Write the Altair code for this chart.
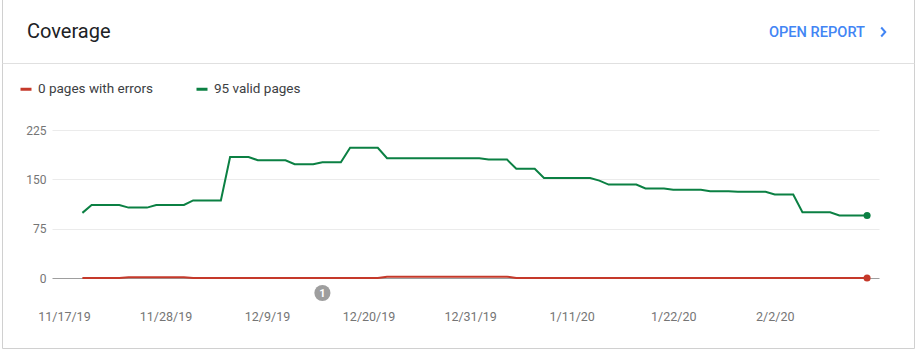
import altair as alt
import pandas as pd

# Daily counts, one value per day starting at start_date
start_date = "2019-11-19"
valid_pages = [
    99, 111, 111, 111, 111, 107, 107, 107, 111, 111, 111, 111,
    118, 118, 118, 118, 184, 184, 184, 179, 179, 179, 179,
    173, 173, 173, 176, 176, 176, 198, 198, 198, 198,
    182, 182, 182, 182, 182, 182, 182, 182, 182, 182, 182,
    180, 180, 180, 166, 166, 166, 152, 152, 152, 152, 152, 152,
    148, 142, 142, 142, 142, 136, 136, 136, 134, 134, 134, 134,
    132, 132, 132, 131, 131, 131, 131, 127, 127, 127,
    100, 100, 100, 100, 95, 95, 95, 95,
]
error_pages = [
    0, 0, 0, 0, 0, 1, 1, 1, 1, 1, 1, 1,
    0, 0, 0, 0, 0, 0, 0, 0, 0, 0, 0,
    0, 0, 0, 0, 0, 0, 0, 0, 0, 0,
    2, 2, 2, 2, 2, 2, 2, 2, 2, 2, 2,
    2, 2, 2, 0, 0, 0, 0, 0, 0, 0, 0, 0,
    0, 0, 0, 0, 0, 0, 0, 0, 0, 0, 0, 0,
    0, 0, 0, 0, 0, 0, 0, 0, 0, 0,
    0, 0, 0, 0, 0, 0, 0, 0,
]
annotation_dates = ["2019-12-15"]
annotation_labels = ["1"]
y_ticks = [0, 75, 150, 225]
x_tick_dates = [
    (2019, 11, 17), (2019, 11, 28), (2019, 12, 9), (2019, 12, 20),
    (2019, 12, 31), (2020, 1, 11), (2020, 1, 22), (2020, 2, 2),
]

ERR_COLOR = "#c5392a"
VALID_COLOR = "#0b8043"
AXIS_TEXT = "#757575"
FONT = "Roboto"

W, H = 827, 148
PAD = {"left": 52, "top": 130, "right": 37, "bottom": 72}

dates = pd.date_range(start_date, periods=len(valid_pages), freq="D").strftime("%Y-%m-%d")
err_label = f"{error_pages[-1]} pages with errors"
valid_label = f"{valid_pages[-1]} valid pages"

df = pd.concat([
    pd.DataFrame({"date": dates, "series": err_label, "value": error_pages}),
    pd.DataFrame({"date": dates, "series": valid_label, "value": valid_pages}),
], ignore_index=True)
last = df[df["date"] == dates[-1]]
notes = pd.DataFrame({"date": annotation_dates, "label": annotation_labels})

x_enc = alt.X(
    "date:T",
    scale=alt.Scale(
        type="utc",
        domain=[
            alt.DateTime(year=2019, month=11, date=15, hours=17, utc=True),
            alt.DateTime(year=2020, month=2, date=13, hours=7, utc=True),
        ],
    ),
    axis=alt.Axis(
        values=[alt.DateTime(year=y, month=m, date=d, utc=True) for y, m, d in x_tick_dates],
        format="%-m/%-d/%y", title=None, domain=False, ticks=False, tickSize=0,
        grid=False, labelPadding=32, labelColor=AXIS_TEXT, labelFontSize=12.5,
        labelFont=FONT,
    ),
)
y_enc = alt.Y(
    "value:Q",
    scale=alt.Scale(domain=[0, 225], nice=False),
    axis=alt.Axis(
        values=y_ticks, title=None, domain=False, ticks=False, tickSize=0,
        labelPadding=6, labelColor=AXIS_TEXT, labelFontSize=12, labelFont=FONT,
        gridColor={"condition": {"test": "datum.value === 0", "value": "#9e9e9e"},
                   "value": "#ebebeb"},
    ),
)
color_enc = alt.Color(
    "series:N",
    scale=alt.Scale(domain=[err_label, valid_label], range=[ERR_COLOR, VALID_COLOR]),
    legend=alt.Legend(
        orient="none", legendX=-33, legendY=-48, direction="horizontal", title=None,
        symbolType="stroke", symbolSize=121, symbolStrokeWidth=3,
        labelFontSize=13.5, labelFont=FONT, labelColor="#3c4043", labelOffset=5,
        columnPadding=37, padding=0,
    ),
)

one = alt.Data(values=[{"k": 0}])

card = alt.Chart(one).mark_rect(fillOpacity=0, stroke="#d0d0d0", strokeWidth=1).encode(
    x=alt.value(-49.5), x2=alt.value(862.5), y=alt.value(-140), y2=alt.value(218.5)
)
divider = alt.Chart(one).mark_rule(color="#e0e0e0", strokeWidth=1).encode(
    x=alt.value(-49.5), x2=alt.value(862.5), y=alt.value(-66.5)
)
heading = alt.Chart(one).mark_text(
    text="Coverage", align="left", baseline="alphabetic", font=FONT,
    fontSize=20, color="#202124",
).encode(x=alt.value(-25), y=alt.value(-91.7))
report = alt.Chart(one).mark_text(
    text="OPEN REPORT", align="left", baseline="alphabetic", font=FONT,
    fontSize=14.6, fontWeight=500, color="#4285f4",
).encode(x=alt.value(717), y=alt.value(-92.7))
chevron = alt.Chart(one).mark_point(
    shape="M-0.4,-1L0.5,0L-0.4,1", filled=False, size=81, strokeWidth=2,
    color="#4285f4", opacity=1,
).encode(x=alt.value(831), y=alt.value(-98))

lines = alt.Chart(df).mark_line(strokeWidth=2).encode(x=x_enc, y=y_enc, color=color_enc)
ends = alt.Chart(last).mark_circle(size=50, opacity=1).encode(
    x="date:T", y="value:Q", color=alt.Color("series:N", legend=None)
)
note_dot = alt.Chart(notes).mark_circle(size=260, color="#9e9e9e", opacity=1).encode(
    x="date:T", y=alt.value(H + 15)
)
note_text = alt.Chart(notes).mark_text(
    font=FONT, fontSize=11, fontWeight="bold", color="white", baseline="middle"
).encode(x="date:T", y=alt.value(H + 15.5), text="label:N")

chart = alt.layer(
    card, divider, heading, report, chevron, lines, ends, note_dot, note_text
).properties(
    width=W, height=H, padding=PAD, background="white",
    autosize=alt.AutoSizeParams(type="none"),
).configure_view(strokeWidth=0).configure_text(font=FONT)

chart.save("out.html", embed_options={"renderer": "svg", "actions": False})
